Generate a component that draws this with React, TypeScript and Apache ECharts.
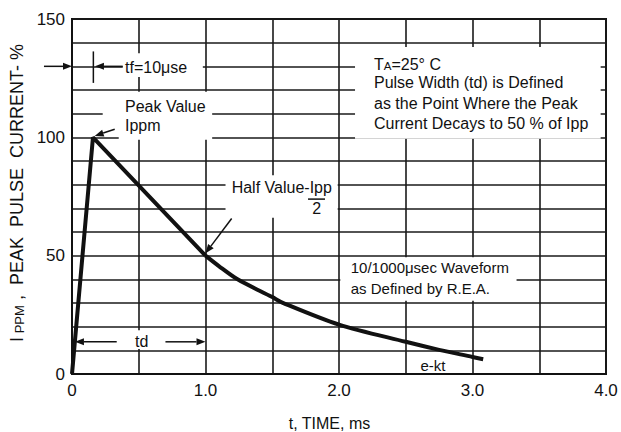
import React, { useEffect, useRef } from 'react';
import * as echarts from 'echarts';

// ---- data ----
const riseTime = [0, 0.157, 1.0];
const riseValue = [0, 100, 50];
const decayTime = [1.0, 1.1, 1.24, 1.5, 1.575, 2.0, 2.5, 2.75, 3.0, 3.08];
const decayValue = [50, 45.6, 40, 32.5, 30.2, 20.9, 13.6, 10.2, 7.2, 6.2];
const xLabelValues = [0, 1, 2, 3, 4];
const yLabelValues = [0, 50, 100, 150];

// ---- annotation anchors (data coordinates) ----
const maskBoxes = [
  [0.38, 0.98, 125.5, 135.5],
  [0.23, 1.05, 101, 119.3],
  [0.35, 1.05, 99, 101.5],
  [2.12, 3.96, 99.4, 138.2],
  [1.15, 1.99, 66, 84],
  [2.01, 3.33, 31, 49.3],
  [0.335, 0.7, 10.6, 18.5],
];
const arrowList = [
  [[-0.21, 130], [0, 130]],
  [[0.38, 130], [0.172, 130]],
  [[0.32, 103.4], [0.17, 100.6]],
  [[1.196, 65.7], [1.0, 51]],
  [[0.335, 13.6], [0.022, 13.6]],
  [[0.7, 13.6], [1.0, 13.6]],
];
const plainLines = [
  [[0.16, 123], [0.16, 136.3]],
  [[1.768, 73.9], [1.895, 73.9]],
];
const labelTexts: [number, number, string, string, number][] = [
  [0.397, 129.4, 'tf=10μse', 'left', 16],
  [0.397, 113.2, 'Peak Value', 'left', 16],
  [0.397, 104.8, 'Ippm', 'left', 16],
  [1.196, 78.6, 'Half Value-Ipp', 'left', 16],
  [1.833, 70.1, '2', 'center', 16],
  [2.262, 131.6, '{t|T}{s|A}{t|=25° C}', 'left', 16],
  [2.262, 123.2, 'Pulse Width (td) is Defined', 'left', 16],
  [2.262, 114.5, 'as the Point Where the Peak', 'left', 16],
  [2.262, 105.9, 'Current Decays to 50 % of Ipp', 'left', 16],
  [2.088, 44.8, '10/1000μsec Waveform', 'left', 15],
  [2.088, 36.3, 'as Defined by R.E.A.', 'left', 15],
  [0.522, 13.6, 'td', 'center', 16],
  [2.704, 3.8, 'e-kt', 'center', 15],
];

const FONT = '"Liberation Sans", Arial, Helvetica, sans-serif';
const INK = '#111';

export default function App() {
  const ref = useRef<HTMLDivElement>(null);

  useEffect(() => {
    const el = ref.current!;
    const chart = echarts.init(el, null, { renderer: 'svg' });

    const option: any = {
      animation: false,
      backgroundColor: '#fff',
      grid: {
        left: 72, right: 15, top: 19, bottom: 58,
        show: true, borderColor: INK, borderWidth: 2, backgroundColor: 'transparent',
      },
      xAxis: {
        type: 'value', min: 0, max: 4, interval: 0.5,
        axisLine: { show: true, lineStyle: { color: INK, width: 2 } },
        axisTick: { show: false },
        splitLine: { show: true, lineStyle: { color: '#1a1a1a', width: 1.6 } },
        axisLabel: {
          color: INK, fontSize: 17, fontFamily: FONT, margin: 8,
          formatter: (v: number) => {
            const hit = xLabelValues.find((x) => Math.abs(x - v) < 1e-6);
            if (hit === undefined) return '';
            return hit === 0 ? '0' : hit.toFixed(1);
          },
        },
      },
      yAxis: {
        type: 'value', min: 0, max: 150, interval: 10,
        axisLine: { show: true, lineStyle: { color: INK, width: 2 } },
        axisTick: { show: false },
        splitLine: { show: true, lineStyle: { color: '#1a1a1a', width: 1.6 } },
        axisLabel: {
          color: INK, fontSize: 17, fontFamily: FONT, margin: 7,
          formatter: (v: number) => {
            const hit = yLabelValues.find((y) => Math.abs(y - v) < 1e-6);
            return hit === undefined ? '' : String(hit);
          },
        },
      },
      series: [
        {
          type: 'line', z: 5, symbol: 'none', smooth: false,
          lineStyle: { color: INK, width: 4 },
          data: riseTime.map((t, i) => [t, riseValue[i]]),
        },
        {
          type: 'line', z: 5, symbol: 'none', smooth: 0.3,
          lineStyle: { color: INK, width: 4 },
          data: decayTime.map((t, i) => [t, decayValue[i]]),
        },
      ],
    };
    chart.setOption(option);

    const px = (t: number, v: number) =>
      chart.convertToPixel({ gridIndex: 0 } as any, [t, v]) as unknown as number[];

    const elements: any[] = [];
    maskBoxes.forEach(([t1, t2, v1, v2]) => {
      const a = px(t1, v2);
      const b = px(t2, v1);
      elements.push({
        type: 'rect', z: 1, silent: true,
        shape: { x: a[0], y: a[1], width: b[0] - a[0], height: b[1] - a[1] },
        style: { fill: '#fff' },
      });
    });
    arrowList.forEach(([from, to]) => {
      const p0 = px(from[0], from[1]);
      const p1 = px(to[0], to[1]);
      const dx = p1[0] - p0[0];
      const dy = p1[1] - p0[1];
      const len = Math.hypot(dx, dy);
      const ux = dx / len;
      const uy = dy / len;
      const head = 9;
      const half = 3.5;
      const bx = p1[0] - ux * head;
      const by = p1[1] - uy * head;
      elements.push({
        type: 'line', z: 10, silent: true,
        shape: { x1: p0[0], y1: p0[1], x2: bx, y2: by },
        style: { stroke: INK, lineWidth: 1.5 },
      });
      elements.push({
        type: 'polygon', z: 10, silent: true,
        shape: { points: [[p1[0], p1[1]], [bx - uy * half, by + ux * half], [bx + uy * half, by - ux * half]] },
        style: { fill: INK },
      });
    });
    plainLines.forEach(([from, to]) => {
      const p0 = px(from[0], from[1]);
      const p1 = px(to[0], to[1]);
      elements.push({
        type: 'line', z: 10, silent: true,
        shape: { x1: p0[0], y1: p0[1], x2: p1[0], y2: p1[1] },
        style: { stroke: INK, lineWidth: 1.5 },
      });
    });
    labelTexts.forEach(([t, v, text, align, size]) => {
      const p = px(t, v);
      elements.push({
        type: 'text', z: 10, silent: true, x: p[0], y: p[1],
        style: {
          text, fill: INK, fontSize: size, fontFamily: FONT,
          align, textAlign: align, verticalAlign: 'middle', textVerticalAlign: 'middle',
          rich: {
            t: { fontSize: size, fontFamily: FONT, fill: INK, verticalAlign: 'bottom', lineHeight: 19 },
            s: { fontSize: 11.5, fontFamily: FONT, fill: INK, verticalAlign: 'bottom', lineHeight: 16 },
          },
        },
      });
    });

    // axis titles
    elements.push({
      type: 'text', z: 10, silent: true, x: 329.5, y: 423,
      style: {
        text: 't, TIME, ms', fill: INK, fontSize: 16, fontFamily: FONT,
        align: 'center', textAlign: 'center', verticalAlign: 'middle', textVerticalAlign: 'middle',
      },
    });
    elements.push({
      type: 'text', z: 10, silent: true, x: 16, y: 193, rotation: Math.PI / 2,
      style: {
        text: '{a|I}{b| PPM}{a| ,  PEAK  PULSE  CURRENT- %}', fill: INK, fontFamily: FONT,
        align: 'center', textAlign: 'center', verticalAlign: 'middle', textVerticalAlign: 'middle',
        rich: {
          a: { fontSize: 18, fontFamily: FONT, fill: INK, verticalAlign: 'bottom', lineHeight: 20 },
          b: { fontSize: 13, fontFamily: FONT, fill: INK, verticalAlign: 'bottom', lineHeight: 10 },
        },
      },
    });

    chart.setOption({ graphic: { elements } });

    return () => chart.dispose();
  }, []);

  return (
    <div
      ref={ref}
      style={{ position: 'fixed', left: 0, top: 0, width: 621, height: 432, background: '#fff' }}
    />
  );
}
